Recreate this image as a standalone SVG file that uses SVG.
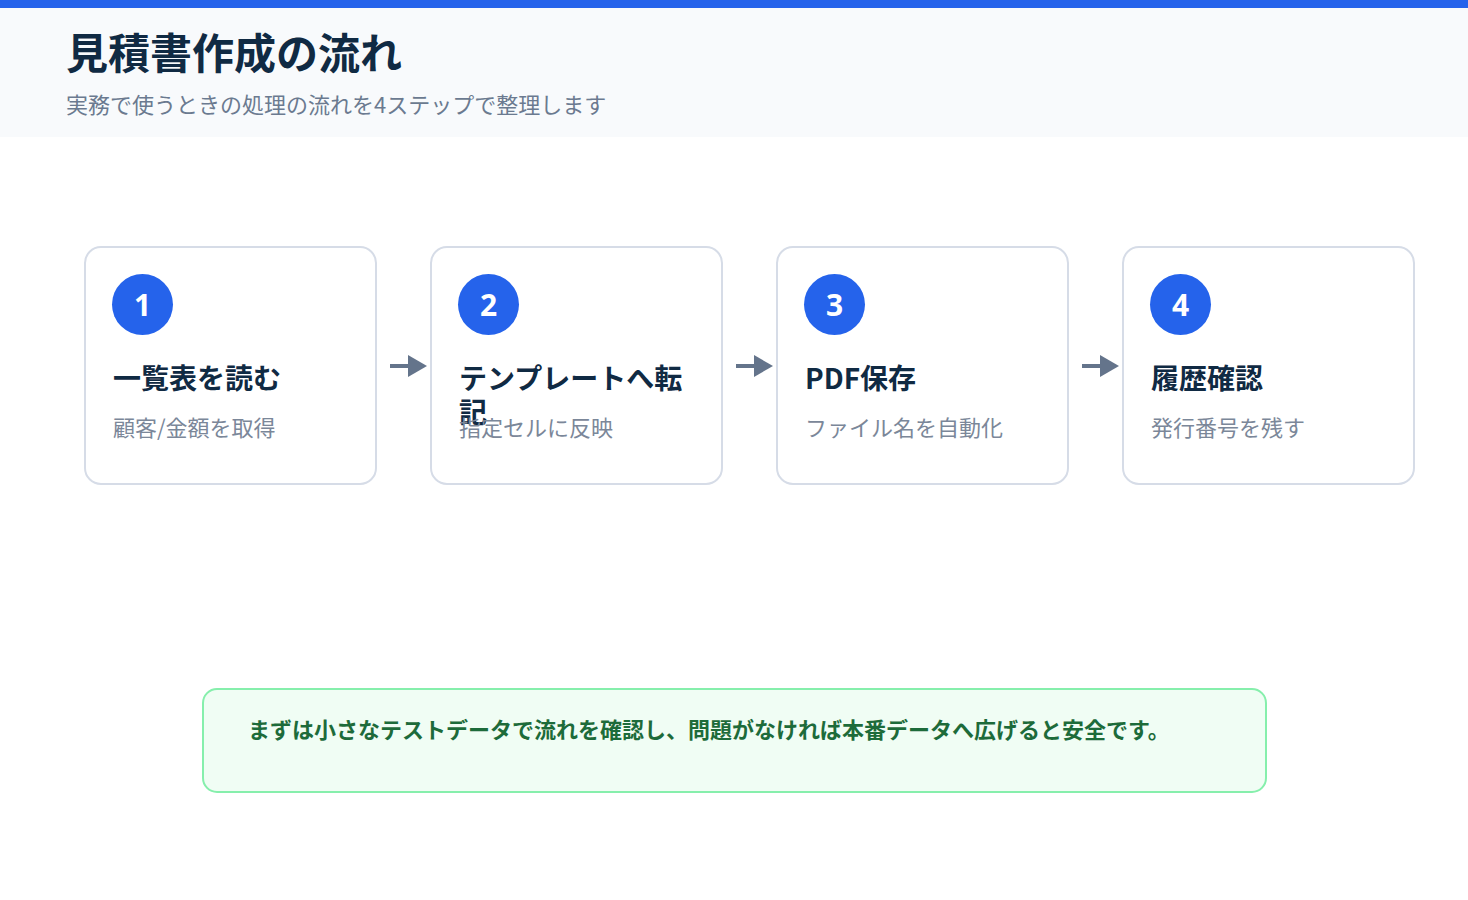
<svg xmlns="http://www.w3.org/2000/svg" width="1468" height="900" viewBox="0 0 1468 900">
<defs>
<style>
text{font-family:"Noto Sans CJK JP","Noto Sans",sans-serif;}
.card{fill:#ffffff;stroke:#d6dce7;stroke-width:2;}
.badge{fill:#2563eb;}
.num{fill:#ffffff;font-size:30px;font-weight:700;text-anchor:middle;font-family:"Noto Sans","Noto Sans CJK JP",sans-serif;}
.ttl{fill:#102a43;font-size:28px;font-weight:700;}
.desc{fill:#7b8799;font-size:22px;}
.conn{stroke:#64748b;stroke-width:4;fill:none;}
.head{fill:#64748b;}
</style>
</defs>
<rect x="0" y="0" width="1468" height="900" fill="#ffffff"/>
<rect x="0" y="8" width="1468" height="129" fill="#f8fafc"/>
<rect x="0" y="0" width="1468" height="8" fill="#2563eb"/>
<text x="66" y="69" style="font-size:42px;font-weight:700;fill:#102a43">見積書作成の流れ</text>
<text x="66" y="113" style="font-size:22px;fill:#6b7a90">実務で使うときの処理の流れを4ステップで整理します</text>

<g id="connectors">
<line class="conn" x1="390" y1="366" x2="410" y2="366"/><polygon class="head" points="408,355 427,366 408,377"/>
<line class="conn" x1="736" y1="366" x2="756" y2="366"/><polygon class="head" points="754,355 773,366 754,377"/>
<line class="conn" x1="1082" y1="366" x2="1102" y2="366"/><polygon class="head" points="1100,355 1119,366 1100,377"/>
</g>

<g id="step1">
<rect class="card" x="85" y="247" width="291" height="237" rx="16"/>
<circle class="badge" cx="142.5" cy="304.5" r="30.5"/>
<text class="num" x="142.5" y="316">1</text>
<text class="ttl" x="113" y="389">一覧表を読む</text>
<text class="desc" x="113" y="436">顧客/金額を取得</text>
</g>
<g id="step2">
<rect class="card" x="431" y="247" width="291" height="237" rx="16"/>
<circle class="badge" cx="488.5" cy="304.5" r="30.5"/>
<text class="num" x="488.5" y="316">2</text>
<text class="ttl" x="459" y="389">テンプレートへ転</text>
<text class="ttl" x="459" y="423">記</text>
<text class="desc" x="459" y="436">指定セルに反映</text>
</g>
<g id="step3">
<rect class="card" x="777" y="247" width="291" height="237" rx="16"/>
<circle class="badge" cx="834.5" cy="304.5" r="30.5"/>
<text class="num" x="834.5" y="316">3</text>
<text class="ttl" x="805" y="389">PDF保存</text>
<text class="desc" x="805" y="436">ファイル名を自動化</text>
</g>
<g id="step4">
<rect class="card" x="1123" y="247" width="291" height="237" rx="16"/>
<circle class="badge" cx="1180.5" cy="304.5" r="30.5"/>
<text class="num" x="1180.5" y="316">4</text>
<text class="ttl" x="1151" y="389">履歴確認</text>
<text class="desc" x="1151" y="436">発行番号を残す</text>
</g>

<g id="note">
<rect x="203" y="689" width="1063" height="103" rx="14" fill="#f0fdf4" stroke="#86efac" stroke-width="2"/>
<text x="248" y="738" style="font-size:22px;font-weight:700;fill:#1d6b3a">まずは小さなテストデータで流れを確認し、問題がなければ本番データへ広げると安全です。</text>
</g>
</svg>
